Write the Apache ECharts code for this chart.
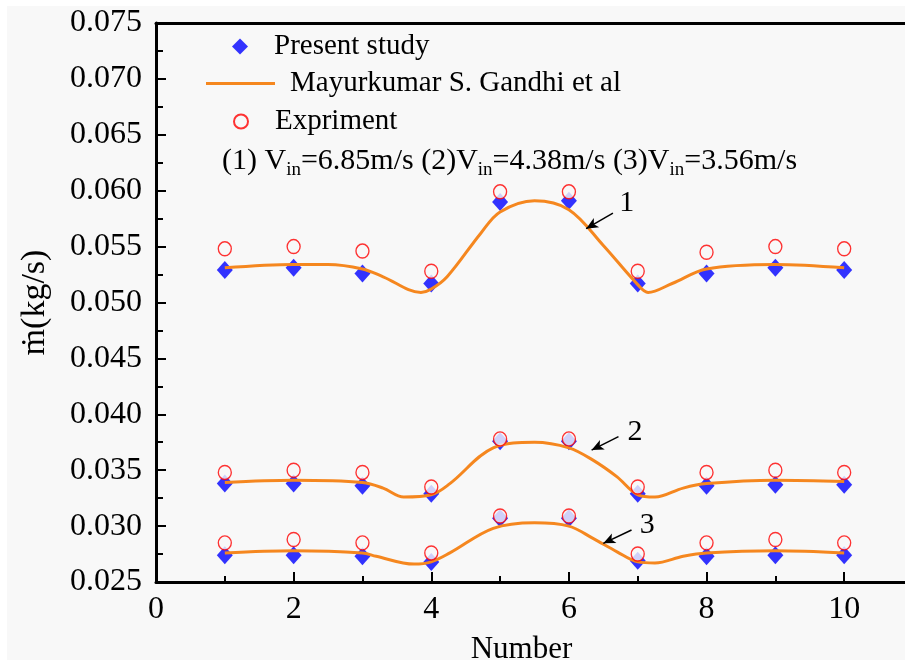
<!DOCTYPE html>
<html>
<head>
<meta charset="utf-8">
<script src="https://cdn.jsdelivr.net/npm/echarts@6/dist/echarts.min.js"></script>
<style>
html, body { margin: 0; padding: 0; background: #fff; }
#main { width: 905px; height: 664px; }
</style>
</head>
<body>
<div id="main"></div>
<script>
// measured points, x = Number
const numbers = [1, 2, 3, 4, 5, 6, 7, 8, 9, 10]
const present1 = [0.0529, 0.0531, 0.0526, 0.0517, 0.0590, 0.0591, 0.0517, 0.0526, 0.0531, 0.0529]
const expriment1 = [0.0548, 0.0550, 0.0546, 0.0528, 0.0599, 0.0599, 0.0528, 0.0545, 0.0550, 0.0548]
const present2 = [0.0338, 0.0338, 0.0336, 0.0329, 0.0376, 0.0376, 0.0329, 0.0336, 0.0337, 0.0337]
const expriment2 = [0.0348, 0.0350, 0.0348, 0.0335, 0.0378, 0.0378, 0.0335, 0.0348, 0.0350, 0.0348]
const present3 = [0.0274, 0.0274, 0.0273, 0.0268, 0.0307, 0.0307, 0.0269, 0.0273, 0.0274, 0.0274]
const expriment3 = [0.0285, 0.0288, 0.0285, 0.0276, 0.0309, 0.0309, 0.0275, 0.0285, 0.0288, 0.0285]

// Gandhi et al curves
const gandhiX1 = [1, 2, 2.5, 3, 3.3, 3.85, 4, 4.23, 4.72, 5, 5.5, 6, 6.5, 7, 7.15, 7.5, 8, 9, 10]
const gandhi1 = [0.0531, 0.0534, 0.0534, 0.0530, 0.0523, 0.0509, 0.0512, 0.0523, 0.0562, 0.0581, 0.0591, 0.0583, 0.0551, 0.0516, 0.0509, 0.0517, 0.0530, 0.0534, 0.0531]
const gandhiX2 = [1, 2, 3, 3.3, 3.6, 4, 4.27, 4.9, 5.5, 6, 6.35, 6.7, 7, 7.25, 7.66, 8, 9, 10]
const gandhi2 = [0.0339, 0.0341, 0.0339, 0.0334, 0.0326, 0.0328, 0.0338, 0.0370, 0.0375, 0.0370, 0.0359, 0.0344, 0.0328, 0.0326, 0.0334, 0.0338, 0.0341, 0.0340]
const gandhiX3 = [1, 2, 3, 3.2, 3.75, 4, 4.27, 4.9, 5.5, 6, 6.35, 6.7, 7, 7.25, 7.66, 8, 9, 10]
const gandhi3 = [0.0276, 0.0278, 0.0276, 0.0273, 0.0266, 0.0268, 0.0276, 0.0298, 0.0303, 0.0300, 0.0289, 0.0277, 0.0268, 0.0267, 0.0273, 0.0276, 0.0278, 0.0276]

// arrows (tail, head) and the curve numbers
const arrowTails = [[6.64, 0.0580], [6.72, 0.0380], [6.91, 0.02965]]
const arrowHeads = [[6.25, 0.0566], [6.33, 0.0368], [6.50, 0.02846]]
const curveLabels = ['1', '2', '3']
const curveLabelPos = [[6.84, 0.0589], [6.96, 0.0384], [7.14, 0.0301]]

const xTicks = { min: 0, max: 11, interval: 2 }
const yTicks = { min: 0.025, max: 0.075, interval: 0.005 }

const FONT = 'Liberation Serif'
const orange = '#f5871f'

function pairs(xs, ys) {
    return xs.map((x, i) => [x, ys[i]])
}

function gandhiSeries(xs, ys, k) {
    return {
        name: 'Mayurkumar S. Gandhi et al',
        type: 'line',
        data: pairs(xs, ys),
        smooth: 0.35,
        symbol: 'none',
        z: 3,
        lineStyle: { color: orange, width: 3 },
        itemStyle: { color: orange },
        markLine: {
            silent: true,
            animation: false,
            symbol: ['none', 'arrow'],
            symbolSize: [8, 12],
            label: { show: false },
            lineStyle: { color: '#000', width: 1.5, type: 'solid' },
            data: [[{ coord: arrowTails[k] }, { coord: arrowHeads[k] }]]
        },
        markPoint: {
            silent: true,
            animation: false,
            symbol: 'rect',
            symbolSize: 1,
            itemStyle: { color: 'rgba(0,0,0,0)' },
            label: {
                show: true, position: 'inside', formatter: curveLabels[k],
                fontFamily: FONT, fontSize: 30, color: '#000'
            },
            data: [{ coord: curveLabelPos[k] }]
        }
    }
}

const diamond = {
    type: 'scatter', name: 'Present study', symbol: 'diamond', symbolSize: [16, 18], z: 2,
    itemStyle: { color: '#0000ff' }
}
const circle = {
    type: 'scatter', name: 'Expriment', symbol: 'circle', symbolSize: [13, 14], z: 4,
    itemStyle: { color: '#f8f8f8', borderColor: '#ff0000', borderWidth: 1.4 }
}

var chart = echarts.init(document.getElementById('main'))

const legendText = { fontFamily: FONT, fontSize: 29, color: '#000' }

const option = {
    backgroundColor: '#fff',
    animation: false,
    graphic: [
        { type: 'rect', z: -100, silent: true, shape: { x: 7, y: 6, width: 898, height: 654 }, style: { fill: '#f8f8f8' } },
        {
            type: 'text', left: 222, top: 146, z: 10,
            style: {
                text: '{a|(1) V}{s|in}{a|=6.85m/s (2)V}{s|in}{a|=4.38m/s (3)V}{s|in}{a|=3.56m/s}',
                lineHeight: 34,
                rich: {
                    a: { fontFamily: FONT, fontSize: 30, color: '#000', verticalAlign: 'top', lineHeight: 34 },
                    s: { fontFamily: FONT, fontSize: 19, color: '#000', verticalAlign: 'bottom', lineHeight: 34 }
                }
            }
        }
    ],
    legend: [
        { data: ['Present study'], left: 232, top: 32, padding: 0, itemWidth: 16, itemHeight: 16,
          textStyle: Object.assign({ padding: [0, 0, 0, 21] }, legendText) },
        { data: [{ name: 'Mayurkumar S. Gandhi et al', icon: 'rect' }], left: 206, top: 69, padding: 0,
          itemWidth: 69, itemHeight: 3,
          textStyle: Object.assign({ padding: [0, 0, 0, 10] }, legendText) },
        { data: ['Expriment'], left: 233, top: 107, padding: 0, itemWidth: 14, itemHeight: 14,
          textStyle: Object.assign({ padding: [0, 0, 0, 22] }, legendText) }
    ],
    grid: { left: 156, right: -8, top: 23, bottom: 82, containLabel: false, outerBoundsMode: 'none' },
    xAxis: [{
        type: 'value',
        min: xTicks.min, max: xTicks.max, interval: xTicks.interval,
        position: 'bottom',
        name: 'Number',
        nameLocation: 'middle',
        nameGap: 52,
        nameTextStyle: { fontFamily: FONT, fontSize: 31, color: '#000', padding: [0, 26, 0, 0] },
        splitLine: { show: false },
        axisLine: { show: true, onZero: false, lineStyle: { color: '#000', width: 3 } },
        axisTick: { show: true, inside: true, length: 10, lineStyle: { color: '#000', width: 2 } },
        minorTick: { show: true, splitNumber: 2, length: 6, lineStyle: { color: '#000', width: 2 } },
        axisLabel: { fontFamily: FONT, fontSize: 32, color: '#000', margin: 12, showMaxLabel: false }
    }, {
        type: 'value',
        min: xTicks.min, max: xTicks.max,
        position: 'top',
        splitLine: { show: false },
        axisLine: { show: true, onZero: false, lineStyle: { color: '#000', width: 3 } },
        axisTick: { show: false },
        axisLabel: { show: false }
    }],
    yAxis: {
        type: 'value',
        min: yTicks.min, max: yTicks.max, interval: yTicks.interval,
        name: 'ṁ(kg/s)',
        nameLocation: 'middle',
        nameGap: 104,
        nameTextStyle: { fontFamily: FONT, fontSize: 34, color: '#000' },
        splitLine: { show: false },
        axisLine: { show: true, onZero: false, lineStyle: { color: '#000', width: 3 } },
        axisTick: { show: true, inside: true, length: 10, lineStyle: { color: '#000', width: 2 } },
        minorTick: { show: true, splitNumber: 2, length: 7, lineStyle: { color: '#000', width: 2 } },
        axisLabel: {
            fontFamily: FONT, fontSize: 32, color: '#000', margin: 14,
            formatter: v => v.toFixed(3)
        }
    },
    series: [
        Object.assign({ data: pairs(numbers, present1) }, diamond),
        Object.assign({ data: pairs(numbers, present2) }, diamond),
        Object.assign({ data: pairs(numbers, present3) }, diamond),
        gandhiSeries(gandhiX1, gandhi1, 0),
        gandhiSeries(gandhiX2, gandhi2, 1),
        gandhiSeries(gandhiX3, gandhi3, 2),
        Object.assign({ data: pairs(numbers, expriment1) }, circle),
        Object.assign({ data: pairs(numbers, expriment2) }, circle),
        Object.assign({ data: pairs(numbers, expriment3) }, circle)
    ]
}

option && chart.setOption(option)
</script>
</body>
</html>
